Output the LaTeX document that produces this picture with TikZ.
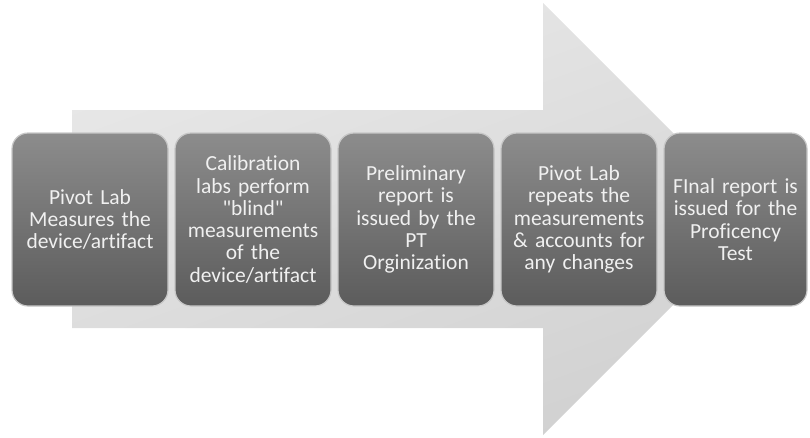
\documentclass[tikz,border=0pt]{standalone}
\usepackage{fontspec}
\setmainfont[Ligatures=NoCommon]{Carlito}
\usetikzlibrary{positioning}
\tikzset{
  stepbox/.style={draw=black!22, line width=1.2pt, rounded corners=16pt,
    top color=black!45, bottom color=black!64, text=white!94!black,
    minimum width=156pt, minimum height=173pt, text width=140pt,
    align=center, font=\fontsize{21.5}{22.3}\selectfont, inner sep=0pt,
    outer sep=0pt},
}
\begin{document}
\begin{tikzpicture}[x=1pt, y=-1pt, node distance=7pt]
    \useasboundingbox (0,0) rectangle (810,437) ;
    % big arrow behind
    \shade [top color=black!9, bottom color=black!18, shading angle=20]
      (72,110) -- (543,110) -- (543,3) -- (759,219) -- (543,435)
      -- (543,328) -- (72,328) -- cycle ;
    % steps
    \node [stepbox] (s1) at (90,219.5) {Pivot Lab\\Measures the\\device/artifact} ;
    \node [stepbox, right=of s1] (s2) {Calibration\\labs perform\\\textquotedbl blind\textquotedbl\\measurements\\of the\\device/artifact} ;
    \node [stepbox, right=of s2] (s3) {Preliminary\\report is\\issued by the\\PT\\Orginization} ;
    \node [stepbox, right=of s3] (s4) {Pivot Lab\\repeats the\\measurements\\\& accounts for\\any changes} ;
    \node [stepbox, right=of s4, minimum width=143pt, text width=130pt] (s5) {FInal report is\\issued for the\\Proficency\\Test} ;
\end{tikzpicture}
\end{document}
